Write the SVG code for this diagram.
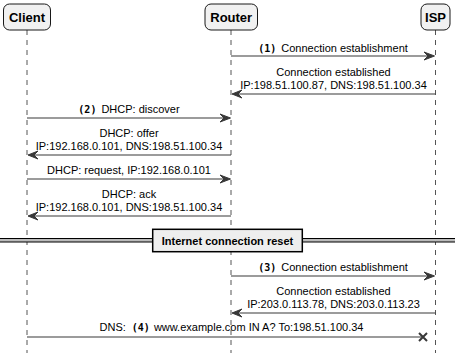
<svg xmlns="http://www.w3.org/2000/svg" width="455" height="353" viewBox="0 0 455 353">
<style>
.life{stroke:#555;stroke-width:1;stroke-dasharray:5,5;fill:none}
.box{fill:#F1F1F1;stroke:#181818;stroke-width:1}
.pt{font-family:"Liberation Sans",Arial,sans-serif;font-weight:bold;font-size:13px;fill:#000;text-anchor:middle}
.msg{stroke:#383838;stroke-width:1.2;fill:none}
.head{fill:#383838;stroke:#383838;stroke-width:1}
.lbl{font-family:"Liberation Sans",Arial,sans-serif;font-size:11px;fill:#000;text-anchor:middle}
.num{font-family:"DejaVu Sans Mono","Liberation Mono",monospace;font-weight:bold;font-size:10px}
.div{font-family:"Liberation Sans",Arial,sans-serif;font-weight:bold;font-size:11px;fill:#000;text-anchor:middle}
</style>
<rect width="455" height="353" fill="#fff"/>
<g id="lifelines">
<line class="life" x1="27" y1="30" x2="27" y2="353"/>
<line class="life" x1="231" y1="30" x2="231" y2="353"/>
<line class="life" x1="435.5" y1="30" x2="435.5" y2="353"/>
</g>
<g id="client"><rect class="box" x="3.5" y="4" width="47" height="26" rx="6"/><text class="pt" x="27" y="21.5">Client</text></g>
<g id="router"><rect class="box" x="205" y="4" width="52.5" height="26" rx="6"/><text class="pt" x="231.2" y="21.5">Router</text></g>
<g id="isp"><rect class="box" x="421" y="4" width="29" height="26" rx="6"/><text class="pt" x="435.5" y="21.5">ISP</text></g>
<g id="connectors">
<line class="msg" x1="231" y1="56" x2="432" y2="56"/>
<polygon class="head" points="424,52 434.5,56 424,60 428,56"/>
<text class="lbl" x="333" y="51.5"><tspan class="num">(1)</tspan><tspan dx="5">Connection establishment</tspan></text>

<line class="msg" x1="435.5" y1="94" x2="234" y2="94"/>
<polygon class="head" points="242,90 232,94 242,98 238,94"/>
<text class="lbl" x="333.5" y="76">Connection established</text>
<text class="lbl" x="333.5" y="89">IP:198.51.100.87, DNS:198.51.100.34</text>

<line class="msg" x1="27" y1="118" x2="228" y2="118"/>
<polygon class="head" points="220,114 230.5,118 220,122 224,118"/>
<text class="lbl" x="129" y="112.5"><tspan class="num">(2)</tspan><tspan dx="5">DHCP: discover</tspan></text>

<line class="msg" x1="231" y1="155" x2="30" y2="155"/>
<polygon class="head" points="38,151 28,155 38,159 34,155"/>
<text class="lbl" x="129" y="137">DHCP: offer</text>
<text class="lbl" x="129" y="150">IP:192.168.0.101, DNS:198.51.100.34</text>

<line class="msg" x1="27" y1="179" x2="228" y2="179"/>
<polygon class="head" points="220,175 230.5,179 220,183 224,179"/>
<text class="lbl" x="129" y="173.5">DHCP: request, IP:192.168.0.101</text>

<line class="msg" x1="231" y1="216" x2="30" y2="216"/>
<polygon class="head" points="38,212 28,216 38,220 34,216"/>
<text class="lbl" x="129" y="198">DHCP: ack</text>
<text class="lbl" x="129" y="211">IP:192.168.0.101, DNS:198.51.100.34</text>

<line class="msg" x1="231" y1="276" x2="432" y2="276"/>
<polygon class="head" points="424,272 434.5,276 424,280 428,276"/>
<text class="lbl" x="333" y="270.5"><tspan class="num">(3)</tspan><tspan dx="5">Connection establishment</tspan></text>

<line class="msg" x1="435.5" y1="313" x2="234" y2="313"/>
<polygon class="head" points="242,309 232,313 242,317 238,313"/>
<text class="lbl" x="333.5" y="295">Connection established</text>
<text class="lbl" x="333.5" y="308">IP:203.0.113.78, DNS:203.0.113.23</text>

<line class="msg" x1="27" y1="337" x2="423" y2="337"/>
<path d="M419,333 L427,341 M427,333 L419,341" stroke="#383838" stroke-width="2" fill="none"/>
<text class="lbl" x="231.5" y="331">DNS:<tspan class="num" dx="6">(4)</tspan><tspan dx="4">www.example.com IN A? To:198.51.100.34</tspan></text>
</g>
<g id="divider">
<rect x="-1" y="238.5" width="457" height="3.5" fill="#BBBBBB" stroke="#000" stroke-width="1"/>
<rect x="152.7" y="229.3" width="149.6" height="22.4" fill="#EEEEEE" stroke="#000" stroke-width="1.5"/>
<text class="div" x="227.5" y="244.5">Internet connection reset</text>
</g>
</svg>
